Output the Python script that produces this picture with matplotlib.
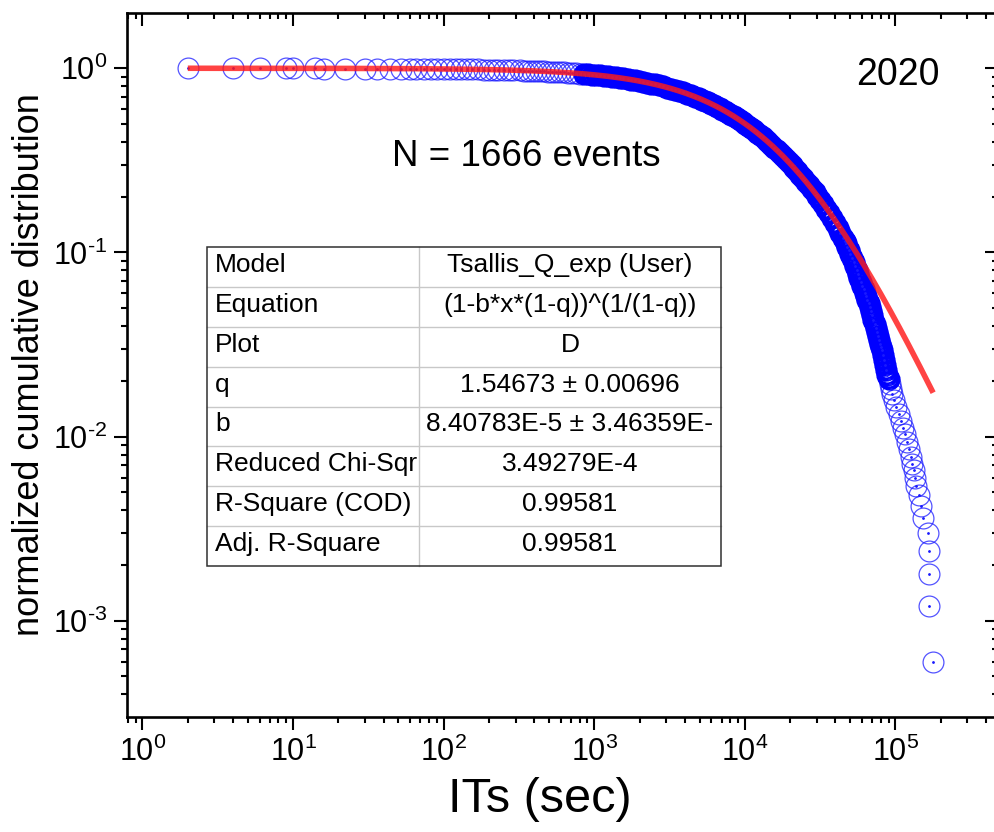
import matplotlib
matplotlib.use("Agg")
import matplotlib.pyplot as plt
import numpy as np
from matplotlib.lines import Line2D
from matplotlib.patches import Rectangle
from matplotlib.ticker import LogLocator, NullFormatter, FuncFormatter

plt.rcParams['font.family'] = ['Liberation Sans', 'DejaVu Sans']
plt.rcParams['mathtext.fontset'] = 'custom'
plt.rcParams['mathtext.rm'] = 'Liberation Sans'
plt.rcParams['mathtext.it'] = 'Liberation Sans:italic'
plt.rcParams['mathtext.bf'] = 'Liberation Sans:bold'
plt.rcParams['mathtext.default'] = 'regular'

# ---------------- data ----------------
it_sec = [2, 4, 6, 9, 10, 14, 16, 22, 30, 36, 44, 52, 60, 66, 74, 82, 90, 100, 110, 120,
          130, 142, 155, 170, 185, 200, 215, 230, 250, 270, 290,
          320, 340, 361, 384, 408, 434, 461, 490, 521, 554, 589, 626, 665, 707, 752, 799,
          849, 903, 960, 1020, 1085, 1153, 1225, 1302, 1384, 1472, 1564, 1663, 1767, 1879,
          1997, 2123, 2256, 2398, 2549, 2710, 2880, 3062, 3254, 3459, 3677, 3909, 4155,
          4416, 4694, 4990,
          5220, 5460, 5700, 5960, 6230, 6510, 6800, 7100, 7420, 7760, 8110, 8470, 8850,
          9250, 9670, 10100, 10550, 11030, 11520, 12040, 12580, 13150, 13740, 14360,
          15000, 15680, 16380, 17120, 17890, 18700, 19540, 20420, 21330, 22290, 23300,
          24350, 25440, 26590, 27780, 29030, 30340, 31700, 33130, 34620, 36180, 37800,
          39500, 41280, 43140, 45080,
          46000, 47000, 48000, 49000, 50200, 51500, 52700, 54000, 55200, 56500, 57700,
          59000, 60200, 61500, 62700, 64000, 65200, 66500, 67700, 69000, 70200, 71500,
          72700, 74000, 75200, 76500, 77700, 79000, 80300, 81600, 82800, 84000, 85500,
          87000, 88500, 90000, 91700, 93500, 95500, 97500, 101000, 105000,
          109000, 113000, 116500, 120000, 123500, 126500, 129000, 132000, 135000, 138000,
          143000, 149000, 153000, 165000, 166400, 167400, 167400, 178000]
cum_dist = [1.000, 0.9994, 0.9988, 0.998, 0.9976, 0.997, 0.9964, 0.9958, 0.995, 0.9945,
            0.994, 0.9934, 0.9928, 0.9922, 0.9916, 0.991, 0.9903, 0.9896, 0.989, 0.9882,
            0.9874, 0.9866, 0.9857, 0.9846, 0.9835, 0.9824, 0.981, 0.980, 0.9785, 0.977,
            0.9755,
            0.9736, 0.9720, 0.9703, 0.9685, 0.9666, 0.9645, 0.9624, 0.9601, 0.9576, 0.9551,
            0.9523, 0.9494, 0.9464, 0.9432, 0.9397, 0.9362, 0.9324, 0.9283, 0.9241, 0.9196,
            0.9148, 0.9099, 0.9047, 0.8991, 0.8933, 0.8872, 0.8808, 0.8739, 0.8669, 0.8594,
            0.8516, 0.8434, 0.8349, 0.8259, 0.8166, 0.8068, 0.7966, 0.7859, 0.7749, 0.7634,
            0.7516, 0.7392, 0.7264, 0.7132, 0.6996, 0.6855,
            0.6748, 0.6639, 0.6534, 0.6422, 0.6309, 0.6195, 0.6081, 0.5965, 0.5846, 0.5724,
            0.5601, 0.5480, 0.5357, 0.5231, 0.5103, 0.4978, 0.4852, 0.4723, 0.4597, 0.4468,
            0.4340, 0.4211, 0.4084, 0.3957, 0.3832, 0.3706, 0.3582, 0.3458, 0.3337, 0.3215,
            0.3097, 0.2980, 0.2866, 0.2752, 0.2641, 0.2532, 0.2425, 0.2321, 0.2220, 0.2121,
            0.2025, 0.1931, 0.1830, 0.1730, 0.1630, 0.1530, 0.1440, 0.1350, 0.1270, 0.1200,
            0.116, 0.112, 0.1075, 0.103, 0.098, 0.093, 0.0885, 0.084, 0.080, 0.076, 0.0725,
            0.069, 0.066, 0.063, 0.0605, 0.058, 0.0555, 0.053, 0.0505, 0.048, 0.0455, 0.043,
            0.041, 0.039, 0.037, 0.035, 0.0335, 0.032, 0.0307, 0.0295, 0.0277, 0.026, 0.0245,
            0.023, 0.0217, 0.0205, 0.0193, 0.0182, 0.0170, 0.0158, 0.0145, 0.0132,
            0.0122, 0.0112, 0.0104, 0.0094, 0.0086, 0.0078, 0.0071, 0.0066, 0.0060, 0.0054,
            0.0048, 0.0042, 0.0036, 0.0030, 0.0024, 0.0018, 0.0012, 0.0006]

# fit parameters (from the table)
q_fit = 1.54673
b_fit = 8.40783e-5
fit_x_range = [2, 178000]

table_labels = ["Model", "Equation", "Plot", "q", "b", "Reduced Chi-Sqr",
                "R-Square (COD)", "Adj. R-Square"]
table_values = ["Tsallis_Q_exp (User)", "(1-b*x*(1-q))^(1/(1-q))", "D",
                "1.54673 \u00b1 0.00696", "8.40783E-5 \u00b1 3.46359E-", "3.49279E-4",
                "0.99581", "0.99581"]

# ---------------- figure ----------------
W, H = 995, 832
fig = plt.figure(figsize=(W / 100, H / 100), dpi=100)
ax = fig.add_axes([127 / W, 1 - 717 / H, (998 - 127) / W, (717 - 13) / H])

ax.set_xscale('log')
ax.set_yscale('log')
ax.set_xlim(0.789, 4.8e5)
ax.set_ylim(3.01e-4, 1.995)

xs = np.array(it_sec, dtype=float)
ys = np.array(cum_dist, dtype=float)
dense = (xs >= 800) & (ys >= 0.020)

# sparse rings (thin)
ax.plot(xs[~dense], ys[~dense], linestyle='none', marker='o', markersize=15,
        markerfacecolor='none', markeredgecolor=(0.1, 0.1, 1.0, 0.75),
        markeredgewidth=0.9, zorder=3)
# densely overlapping rings -> solid band
ax.plot(xs[dense], ys[dense], linestyle='none', marker='o', markersize=13,
        markerfacecolor='none', markeredgecolor=(0.0, 0.0, 1.0),
        markeredgewidth=3.0, zorder=3)
ax.plot(xs, ys, linestyle='none', marker='o', markersize=1.0,
        color=(0.1, 0.1, 1.0), zorder=3)

xf = np.logspace(np.log10(fit_x_range[0]), np.log10(fit_x_range[1]), 400)
yf = (1 - b_fit * xf * (1 - q_fit)) ** (1 / (1 - q_fit))
ax.plot(xf, yf, color=(1.0, 0.1, 0.1), alpha=0.82, lw=4, zorder=4,
        solid_capstyle='butt')

for s in ax.spines.values():
    s.set_linewidth(1.9)

ax.xaxis.set_major_locator(LogLocator(base=10, numticks=20))
ax.yaxis.set_major_locator(LogLocator(base=10, numticks=20))
ax.xaxis.set_minor_locator(LogLocator(base=10, subs=np.arange(2, 10), numticks=20))
ax.yaxis.set_minor_locator(LogLocator(base=10, subs=np.arange(2, 10), numticks=20))
ax.xaxis.set_minor_formatter(NullFormatter())
ax.yaxis.set_minor_formatter(NullFormatter())


def pow_fmt(v, pos):
    e = int(round(np.log10(v)))
    return r'$10^{\text{%d}}$' % e


ax.xaxis.set_major_formatter(FuncFormatter(pow_fmt))
ax.yaxis.set_major_formatter(FuncFormatter(pow_fmt))

ax.tick_params(which='major', axis='both', direction='out', length=9.4, width=1.5,
               labelsize=22, pad=5)
ax.tick_params(which='minor', axis='both', direction='out', length=4.5, width=1.5)
ax.tick_params(which='both', top=True, right=True)
# top/right ticks point inward
for t in ax.xaxis.get_major_ticks() + ax.xaxis.get_minor_ticks():
    t.tick2line.set_marker(matplotlib.markers.TICKDOWN)
for t in ax.yaxis.get_major_ticks() + ax.yaxis.get_minor_ticks():
    t.tick2line.set_marker(matplotlib.markers.TICKLEFT)

ax.set_xlabel('ITs (sec)', fontsize=35)
ax.xaxis.set_label_coords((540 - 127) / 871, -(800 - 717) / 704, transform=ax.transAxes)
ax.xaxis.label.set_va('center')
ax.set_ylabel('normalized cumulative distribution', fontsize=26)
ax.yaxis.set_label_coords(-(127 - 30) / 871, (832 - 365 - 115) / 704, transform=ax.transAxes)
ax.yaxis.label.set_va('center')

fig.text(898 / W, 1 - 75 / H, '2020', fontsize=27, ha='center', va='center')
fig.text(526 / W, 1 - 156 / H, 'N = 1666 events', fontsize=26.5, ha='center', va='center')

# ---------------- fit table ----------------
x0, x1, xm = 207 / W, 721 / W, 419 / W
ytop, ybot = 1 - 247 / H, 1 - 566 / H
nrows = len(table_labels)
rh = (ytop - ybot) / nrows
fig.patches.append(Rectangle((x0, ybot), x1 - x0, ytop - ybot, transform=fig.transFigure,
                             facecolor='white', edgecolor='none', zorder=5))
for i in range(1, nrows):
    yy = ytop - i * rh
    fig.lines.append(Line2D([x0, x1], [yy, yy], transform=fig.transFigure,
                            color='#c8c8c8', lw=1.0, zorder=6))
fig.lines.append(Line2D([xm, xm], [ybot, ytop], transform=fig.transFigure,
                        color='#c8c8c8', lw=1.0, zorder=6))
fig.patches.append(Rectangle((x0, ybot), x1 - x0, ytop - ybot, transform=fig.transFigure,
                             facecolor='none', edgecolor='#303030', lw=1.1, zorder=7))
for i, (lab, val) in enumerate(zip(table_labels, table_values)):
    yc = ytop - (i + 0.5) * rh + 2 / H
    fig.text(215 / W, yc, lab, fontsize=19, ha='left', va='center', zorder=8)
    fig.text((xm + x1) / 2, yc, val, fontsize=19, ha='center', va='center', zorder=8)

fig.savefig('out.png', dpi=100)
